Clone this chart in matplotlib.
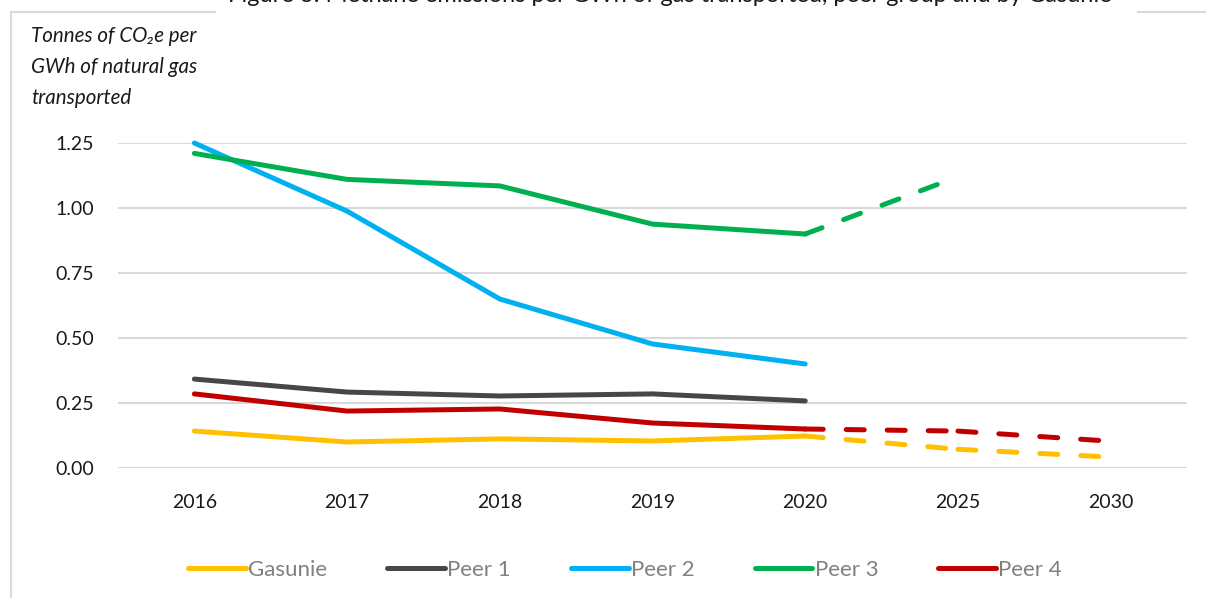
import matplotlib.pyplot as plt
from matplotlib.lines import Line2D


# Data

years = ["2016", "2017", "2018", "2019", "2020", "2025", "2030"]
hist_years = ["2016", "2017", "2018", "2019", "2020"]

gasunie = [0.142, 0.100, 0.112, 0.104, 0.123]
peer1 = [0.342, 0.292, 0.277, 0.285, 0.258]
peer2 = [1.250, 0.988, 0.650, 0.477, 0.400]
peer3 = [1.210, 1.110, 1.085, 0.938, 0.900]
peer4 = [0.285, 0.219, 0.227, 0.173, 0.150]

# targets (dashed), from 2020 onwards
gasunie_target_years = ["2020", "2025", "2030"]
gasunie_target = [0.123, 0.072, 0.042]
peer3_target_years = ["2020", "2025"]
peer3_target = [0.900, 1.120]
peer4_target_years = ["2020", "2025", "2030"]
peer4_target = [0.150, 0.142, 0.103]

yticks = [0.0, 0.25, 0.5, 0.75, 1.0, 1.25]
ytick_labels = ["0.00", "0.25", "0.50", "0.75", "1.00", "1.25"]

title = "Figure 3: Methane emissions per GWh of gas transported, peer group and by Gasunie"
ylabel = "Tonnes of CO\u2082e per\nGWh of natural gas\ntransported"


# Style

fonts = ["Lato", "DejaVu Sans"]
plt.rcParams["font.family"] = fonts
lw = 3.6
c_gas = "#FFC000"
c_p1 = "#474747"
c_p2 = "#00B0F0"
c_p3 = "#00B050"
c_p4 = "#C00000"
grid_c = "#D9D9D9"
dash = (3.6, 4.6)


# Plot

W, H = 1206, 598
fig = plt.figure(figsize=(W / 100, H / 100), dpi=100)
ax = fig.add_axes([118 / W, 1 - 468 / H, (1187 - 118) / W, (468 - 143) / H])

# fix category order
ax.plot(years, [None] * len(years), alpha=0)

def seg(x, y, color, dashed=False, label=None):
    ln, = ax.plot(x, y, color=color, lw=lw, solid_capstyle="round",
                  dash_capstyle="round", solid_joinstyle="round", label=label)
    if dashed:
        ln.set_dashes(dash)
    return ln

h_gas = seg(hist_years, gasunie, c_gas, label="Gasunie")
h_p1 = seg(hist_years, peer1, c_p1, label="Peer 1")
h_p2 = seg(hist_years, peer2, c_p2, label="Peer 2")
h_p3 = seg(hist_years, peer3, c_p3, label="Peer 3")
h_p4 = seg(hist_years, peer4, c_p4, label="Peer 4")

for tx, ty, c in [(gasunie_target_years, gasunie_target, c_gas),
                  (peer4_target_years, peer4_target, c_p4),
                  (peer3_target_years, peer3_target, c_p3)]:
    for i in range(len(tx) - 1):
        seg(tx[i:i + 2], ty[i:i + 2], c, dashed=True)

ax.set_xlim(-0.5, len(years) - 0.5)
ax.set_ylim(0, 1.25)
ax.set_yticks(yticks)
ax.set_yticklabels(ytick_labels)
ax.yaxis.grid(True, color=grid_c, lw=1.5)
ax.set_axisbelow(True)
for s in ax.spines.values():
    s.set_visible(False)
ax.tick_params(axis="both", length=0, labelsize=14, colors="#1A1A1A")
ax.tick_params(axis="y", pad=17)
ax.tick_params(axis="x", pad=19)
for ln in ax.lines:
    ln.set_clip_on(False)

# y label text
fig.text(31 / W, 1 - 26 / H, ylabel, ha="left", va="top", fontsize=14.8,
         style="italic", linespacing=1.68, color="#1A1A1A", family=fonts)

# chart border with gap for title
bc = "#D9D9D9"
fig.add_artist(Line2D([11 / W, 11 / W], [1 - 12 / H, 0], color=bc, lw=1.5))
fig.add_artist(Line2D([11 / W, 215 / W], [1 - 12 / H, 1 - 12 / H], color=bc, lw=1.5))
fig.add_artist(Line2D([1138 / W, 1], [1 - 12 / H, 1 - 12 / H], color=bc, lw=1.5))

# title, mostly cut off at the top
fig.text(670 / W, 1 - 2 / H, title, ha="center", va="baseline", fontsize=17,
         color="#1A1A1A")

# legend
leg = fig.legend(handles=[h_gas, h_p1, h_p2, h_p3, h_p4], loc="center",
                 bbox_to_anchor=(625 / W, 1 - 570 / H), ncol=5, frameon=False,
                 fontsize=16, handlelength=2.6, handletextpad=0.1,
                 columnspacing=2.7)
for t in leg.get_texts():
    t.set_color("#808080")

fig.savefig("out.png", dpi=100)
